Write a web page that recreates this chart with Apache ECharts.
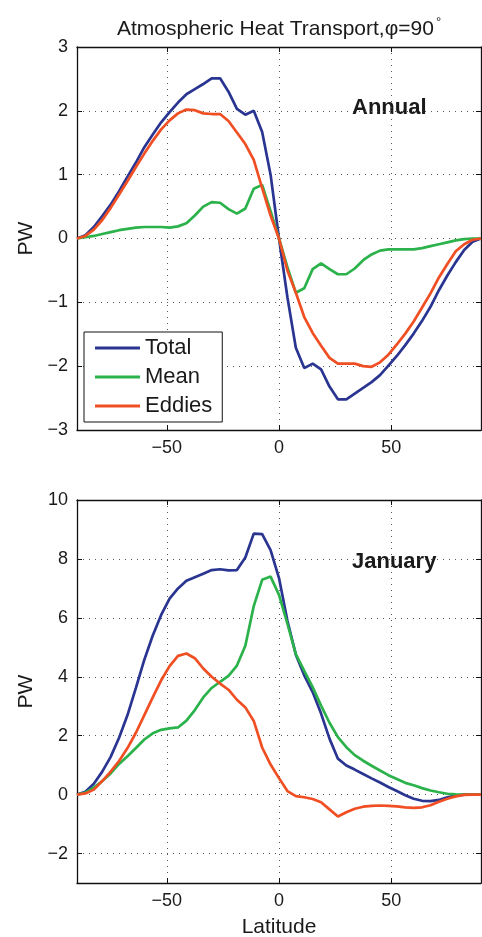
<!DOCTYPE html>
<html>
<head>
<meta charset="utf-8">
<script src="https://cdn.jsdelivr.net/npm/echarts@6/dist/echarts.min.js"></script>
<style>
html,body{margin:0;padding:0;background:#fff;}
#chart{width:482px;height:937px;}
</style>
</head>
<body>
<div id="chart"></div>
<script>
// Latitude grid (degrees)
const lat = [-90,-86.25,-82.5,-78.75,-75,-71.25,-67.5,-63.75,-60,-56.25,-52.5,-48.75,-45,-41.25,-37.5,-33.75,-30,-26.25,-22.5,-18.75,-15,-11.25,-7.5,-3.75,0,3.75,7.5,11.25,15,18.75,22.5,26.25,30,33.75,37.5,41.25,45,48.75,52.5,56.25,60,63.75,67.5,71.25,75,78.75,82.5,86.25,90];

// Annual (PW)
const annualTotal = [0,0.05,0.18,0.35,0.53,0.74,0.97,1.19,1.43,1.63,1.82,1.98,2.13,2.26,2.34,2.42,2.51,2.51,2.30,2.03,1.94,2.00,1.67,1.00,0,-0.92,-1.71,-2.03,-1.96,-2.05,-2.32,-2.52,-2.52,-2.43,-2.34,-2.25,-2.14,-1.99,-1.84,-1.67,-1.49,-1.29,-1.07,-0.81,-0.58,-0.37,-0.18,-0.05,0];
const annualMean = [0,0.02,0.04,0.07,0.10,0.13,0.15,0.17,0.18,0.18,0.18,0.17,0.19,0.24,0.36,0.50,0.57,0.56,0.46,0.39,0.47,0.78,0.84,0.43,0,-0.45,-0.85,-0.78,-0.48,-0.39,-0.48,-0.56,-0.56,-0.47,-0.34,-0.25,-0.19,-0.17,-0.17,-0.17,-0.17,-0.15,-0.12,-0.09,-0.06,-0.03,-0.01,0,0];
const annualEddies = [0,0.04,0.14,0.29,0.48,0.69,0.90,1.12,1.33,1.53,1.71,1.85,1.96,2.02,2.01,1.96,1.95,1.95,1.84,1.66,1.48,1.23,0.79,0.36,0,-0.50,-0.85,-1.23,-1.48,-1.68,-1.87,-1.96,-1.96,-1.96,-2.00,-2.01,-1.94,-1.82,-1.66,-1.49,-1.30,-1.08,-0.86,-0.61,-0.40,-0.20,-0.09,-0.02,0];

// January (PW)
const janTotal = [0,0.10,0.37,0.78,1.28,1.93,2.70,3.62,4.58,5.40,6.10,6.65,7.00,7.26,7.38,7.50,7.62,7.65,7.61,7.62,8.05,8.86,8.84,8.30,7.35,5.90,4.75,4.05,3.48,2.75,1.90,1.22,0.99,0.85,0.70,0.55,0.41,0.26,0.12,-0.02,-0.14,-0.21,-0.22,-0.18,-0.09,-0.03,0,0,0];
const janMean = [0,0.07,0.24,0.46,0.72,1.04,1.30,1.58,1.87,2.08,2.20,2.25,2.28,2.51,2.87,3.30,3.62,3.83,4.03,4.38,5.05,6.40,7.29,7.40,6.78,5.80,4.77,4.20,3.65,3.02,2.44,1.95,1.61,1.34,1.15,0.98,0.82,0.66,0.53,0.40,0.32,0.22,0.14,0.08,0.03,0.01,0,0,0];
const janEddies = [0,0.04,0.17,0.46,0.78,1.14,1.58,2.10,2.70,3.30,3.88,4.36,4.71,4.79,4.63,4.28,4.00,3.77,3.56,3.22,2.96,2.50,1.60,1.02,0.56,0.12,-0.05,-0.09,-0.15,-0.26,-0.50,-0.74,-0.60,-0.48,-0.41,-0.38,-0.37,-0.38,-0.40,-0.43,-0.45,-0.43,-0.36,-0.24,-0.14,-0.06,-0.01,0,0];

const seriesNames = ['Total','Mean','Eddies'];
const xTicks = [-50,0,50];
const annualYTicks = [-3,-2,-1,0,1,2,3];
const janYTicks = [-2,0,2,4,6,8,10];

const colors = ['#2a3592','#2bb24b','#f04e23'];
const FONT = "'Liberation Sans', Arial, Helvetica, sans-serif";

const pairs = vals => lat.map((x,i)=>[x, vals[i]]);
const fmt = v => (v < 0 ? '\u2212' + Math.abs(v) : String(v));

const gridLine = {show:true, lineStyle:{color:'#555', width:1, type:[1,5]}};
const axLine = {show:true, onZero:false, lineStyle:{color:'#111', width:1.3}};

function xAx(grid, bottom, withName){
  return {
    type:'value', gridIndex:grid, min:-90, max:90, position: bottom ? 'bottom':'top',
    axisLine: axLine,
    axisTick: {show:true, inside:true, length:5, customValues:xTicks, lineStyle:{color:'#111'}},
    axisLabel: {show:bottom, customValues:xTicks, formatter:fmt, fontSize:18, color:'#1a1a1a', fontFamily:FONT, margin:9},
    splitLine: bottom ? gridLine : {show:false},
    name: withName ? 'Latitude' : '',
    nameLocation:'middle', nameGap:34,
    nameTextStyle:{fontSize:21, color:'#1a1a1a', fontFamily:FONT}
  };
}
function yAx(grid, left, min, max, ticks){
  return {
    type:'value', gridIndex:grid, min:min, max:max, position: left ? 'left':'right',
    axisLine: axLine,
    axisTick: {show:true, inside:true, length:5, customValues:ticks, lineStyle:{color:'#111'}},
    axisLabel: {show:left, customValues:ticks, formatter:fmt, fontSize:18, color:'#1a1a1a', fontFamily:FONT, margin:9},
    splitLine: left ? gridLine : {show:false},
    name: left ? 'PW' : '',
    nameLocation:'middle', nameGap:39, nameRotate:90,
    nameTextStyle:{fontSize:21, color:'#1a1a1a', fontFamily:FONT}
  };
}

function mk(name, data, xi, yi, ci){
  return {
    name:name, type:'line', xAxisIndex:xi, yAxisIndex:yi, data:pairs(data),
    symbol:'none', showSymbol:false, smooth:false,
    lineStyle:{color:colors[ci], width:2.7}, itemStyle:{color:colors[ci]},
    animation:false, z:2+ci
  };
}

const chart = echarts.init(document.getElementById('chart'), null, {renderer:'canvas'});
chart.setOption({
  animation:false,
  backgroundColor:'#fff',
  title:{
    text:'Atmospheric Heat Transport,{p|\u03c6}=90{s|\u00b0}',
    left:112, top:11,
    textStyle:{fontSize:21, fontWeight:'normal', color:'#1a1a1a', fontFamily:FONT,
      rich:{p:{fontSize:21, color:'#1a1a1a', fontFamily:FONT}, s:{fontSize:13, color:'#1a1a1a', fontFamily:FONT, padding:[0,0,13,2]}}}
  },
  grid:[
    {left:77, top:47, width:404, height:383, show:false, containLabel:false, outerBoundsMode:'none'},
    {left:77, top:500, width:404, height:383, show:false, containLabel:false, outerBoundsMode:'none'}
  ],
  xAxis:[xAx(0,true,false), xAx(0,false,false), xAx(1,true,true), xAx(1,false,false)],
  yAxis:[yAx(0,true,-3,3,annualYTicks), yAx(0,false,-3,3,annualYTicks), yAx(1,true,-3,10,janYTicks), yAx(1,false,-3,10,janYTicks)],
  legend:{
    data:seriesNames, orient:'vertical', left:84, top:332,
    icon:'rect', itemWidth:45, itemHeight:3, itemGap:7,
    padding:[5,10,5,11],
    backgroundColor:'#fff', borderColor:'#111', borderWidth:1,
    textStyle:{fontSize:22, lineHeight:22, color:'#1a1a1a', fontFamily:FONT},
    selectedMode:false
  },
  series:[
    mk(seriesNames[0], annualTotal, 0, 0, 0),
    mk(seriesNames[1], annualMean, 0, 0, 1),
    mk(seriesNames[2], annualEddies, 0, 0, 2),
    mk(seriesNames[0], janTotal, 2, 2, 0),
    mk(seriesNames[1], janMean, 2, 2, 1),
    mk(seriesNames[2], janEddies, 2, 2, 2)
  ],
  graphic:[
    {type:'text', left:352, top:97, style:{text:'Annual', font:"bold 22px 'Liberation Sans', Arial, sans-serif", fill:'#1a1a1a'}},
    {type:'text', left:352, top:551, style:{text:'January', font:"bold 22px 'Liberation Sans', Arial, sans-serif", fill:'#1a1a1a'}}
  ]
});
</script>
</body>
</html>
